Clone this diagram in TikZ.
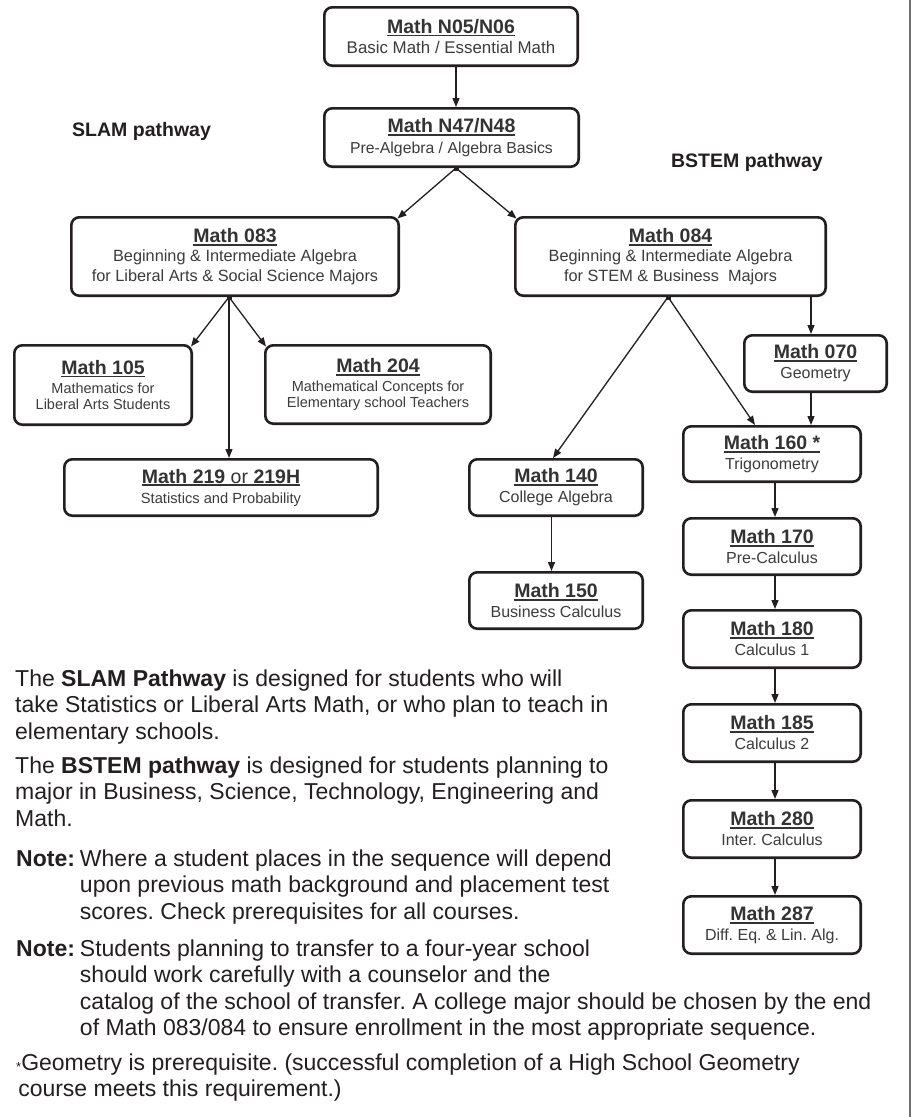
\documentclass[tikz,border=0pt]{standalone}
\usepackage{fontspec}
\setmainfont{Liberation Sans}
\usetikzlibrary{arrows.meta}
\definecolor{ink}{HTML}{231F20}
\definecolor{ttl}{HTML}{333333}
\definecolor{subc}{HTML}{3C3C3C}
\definecolor{edgec}{HTML}{707070}
\newcommand\ulx[1]{\setbox0=\hbox{#1}\rlap{\rule[-3.2pt]{\wd0}{1.9pt}}\box0}
\newcommand\ctitle[1]{{\fontsize{19.5}{20}\selectfont\bfseries\color{ttl}\ulx{#1}}}
\frenchspacing
\begin{document}
\begin{tikzpicture}[x=1pt,y=-1pt,
  box/.style={draw=ink, line width=2.6pt, rounded corners=8pt, align=center, inner sep=0pt, text=subc, font=\fontsize{16.5}{20.5}\selectfont},
  smallbox/.style={box, font=\fontsize{14.5}{16.5}\selectfont},
  arr/.style={draw=ink, line width=1.3pt, -{Triangle[length=9pt,width=7pt]}},
  body/.style={inner sep=0pt, anchor=base west, text=ink, font=\fontsize{23}{26.5}\selectfont},
  pathlbl/.style={inner sep=0pt, text=ink, font=\fontsize{19.5}{22}\selectfont\bfseries}]
\useasboundingbox (0,0) rectangle (912,1117);
\fill[white] (0,0) rectangle (912,1117);
\draw[edgec, line width=2pt] (910,0) -- (910,1117);

% coordinates for connector columns
\coordinate (x456) at (456,0);
\coordinate (x229) at (229,0);
\coordinate (x668) at (668,0);
\coordinate (x811) at (811,0);
\coordinate (x775) at (775,0);
\coordinate (x553) at (553,0);
\coordinate (x551) at (551.5,0);
\coordinate (x755) at (755,0);

% boxes
\node[box, minimum width=253.4, minimum height=58.4] (n05) at (451,36.5)
  {\ctitle{Math N05/N06}\\{\fontsize{16.9}{20}\selectfont Basic Math / Essential Math}};
\node[box, minimum width=254.4, minimum height=58.4] (n47) at (451.5,137.5)
  {\ctitle{Math N47/N48}\\{\fontsize{15.8}{20}\selectfont Pre-Algebra / Algebra Basics}};
\node[box, font=\fontsize{16.3}{19.5}\selectfont, minimum width=327.4, minimum height=78.4] (m083) at (235,256.5)
  {\ctitle{Math 083}\\Beginning \& Intermediate Algebra\\for Liberal Arts \& Social Science Majors};
\node[box, font=\fontsize{16.3}{19.5}\selectfont, minimum width=310.4, minimum height=78.4] (m084) at (670.5,256.5)
  {\ctitle{Math 084}\\Beginning \& Intermediate Algebra\\for STEM \& Business\ \ Majors};
\node[smallbox, minimum width=177.4, minimum height=79.4] (m105) at (103,385)
  {\ctitle{Math 105}\\[2.5pt]Mathematics for\\Liberal Arts Students};
\node[smallbox, minimum width=225.4, minimum height=78.4] (m204) at (378,384.5)
  {\ctitle{Math 204}\\[2.5pt]Mathematical Concepts for\\Elementary school Teachers};
\node[smallbox, font=\fontsize{14.7}{20}\selectfont, minimum width=313.4, minimum height=56.4] (m219) at (221,487.5)
  {\ctitle{Math 219 {\mdseries or} 219H}\\Statistics and Probability};
\node[box, font=\fontsize{16}{20}\selectfont, minimum width=173.4, minimum height=56.4] (m140) at (556,487.5)
  {\ctitle{Math 140}\\College Algebra};
\node[box, font=\fontsize{16}{20}\selectfont, minimum width=173.4, minimum height=56.4] (m150) at (556,600.5)
  {\ctitle{Math 150}\\Business Calculus};
\node[box, font=\fontsize{16}{20}\selectfont, minimum width=142.4, minimum height=56.4] (m070) at (815.5,363.5)
  {\ctitle{Math 070}\\Geometry};
\node[box, font=\fontsize{16}{20}\selectfont, minimum width=177.4, minimum height=55.4] (m160) at (772,454)
  {\ctitle{Math 160 *}\\Trigonometry};
\node[box, font=\fontsize{16}{20}\selectfont, minimum width=177.4, minimum height=56.4] (m170) at (772,546.5)
  {\ctitle{Math 170}\\Pre-Calculus};
\node[box, font=\fontsize{16}{20}\selectfont, minimum width=177.4, minimum height=57.4] (m180) at (772,639)
  {\ctitle{Math 180}\\Calculus 1};
\node[box, font=\fontsize{16}{20}\selectfont, minimum width=177.4, minimum height=57.4] (m185) at (772,733)
  {\ctitle{Math 185}\\Calculus 2};
\node[box, font=\fontsize{16}{20}\selectfont, minimum width=177.4, minimum height=57.4] (m280) at (772,829)
  {\ctitle{Math 280}\\Inter. Calculus};
\node[box, font=\fontsize{16}{20}\selectfont, minimum width=177.4, minimum height=57.4] (m287) at (772,925)
  {\ctitle{Math 287}\\Diff. Eq. \& Lin. Alg.};

% pathway labels
\node[pathlbl, anchor=base west] (slam) at (72,136) {SLAM pathway};
\node[pathlbl, anchor=base east] (bstem) at (823,167) {BSTEM pathway};

% connectors
\draw[arr] (n05.south -| x456) -- (n47.north -| x456);
\draw[arr] (n47.south -| x456) -- ([shift={(-2.5,2.5)}]m083.north east);
\draw[arr] (n47.south -| x456) -- ([shift={(2.5,2.5)}]m084.north west);
\fill[ink] (n47.south -| x456) +(-2.5,-2.5) rectangle +(2.5,2.5);

\draw[arr] (m083.south -| x229) -- ([shift={(-2,2.5)}]m105.north east);
\draw[arr] (m083.south -| x229) -- ([shift={(2,2.5)}]m204.north west);
\draw[arr] (m083.south -| x229) -- (m219.north -| x229);
\fill[ink] (m083.south -| x229) +(-2.5,-2.5) rectangle +(2.5,2.5);

\draw[arr] (m084.south -| x668) -- (m140.north -| x553);
\draw[arr] (m084.south -| x668) -- (m160.north -| x755);
\fill[ink] (m084.south -| x668) +(-2.5,-2.5) rectangle +(2.5,2.5);
\draw[arr] (m084.south -| x811) -- (m070.north -| x811);
\draw[arr] (m070.south -| x811) -- (m160.north -| x811);
\draw[arr] (m140.south -| x551) -- (m150.north -| x551);

\draw[arr] (m160.south -| x775) -- (m170.north -| x775);
\draw[arr] (m170.south -| x775) -- (m180.north -| x775);
\draw[arr] (m180.south -| x775) -- (m185.north -| x775);
\draw[arr] (m185.south -| x775) -- (m280.north -| x775);
\draw[arr] (m280.south -| x775) -- (m287.north -| x775);

% text
\node[body] (p1) at (15,686) {\begin{tabular}[t]{@{}l@{}}
The \textbf{SLAM Pathway} is designed for students who will\\
take Statistics or Liberal Arts Math, or who plan to teach in\\
elementary schools.\end{tabular}};
\node[body] (p2) at (15,773) {\begin{tabular}[t]{@{}l@{}}
The \textbf{BSTEM pathway} is designed for students planning to\\
major in Business, Science, Technology, Engineering and\\
Math.\end{tabular}};
\node[body] (note1) at (16,866) {\begin{tabular}[t]{@{}l@{\hspace{5pt}}l@{}}
\textbf{Note:} & Where a student places in the sequence will depend\\
 & upon previous math background and placement test\\
 & scores. Check prerequisites for all courses.\end{tabular}};
\node[body] (note2) at (16,956) {\begin{tabular}[t]{@{}l@{\hspace{5pt}}l@{}}
\textbf{Note:} & Students planning to transfer to a four-year school\\
 & should work carefully with a counselor and the\\
 & catalog of the school of transfer. A college major should be chosen by the end\\
 & of Math 083/084 to ensure enrollment in the most appropriate sequence.\end{tabular}};
\node[body] (foot) at (16,1070) {\begin{tabular}[t]{@{}l@{}l@{}}
\raisebox{-1.5pt}{\fontsize{13}{13}\selectfont *} & Geometry is prerequisite. (successful completion of a High School Geometry\\
 & \hspace{-3pt}course meets this requirement.)\end{tabular}};
\end{tikzpicture}
\end{document}
